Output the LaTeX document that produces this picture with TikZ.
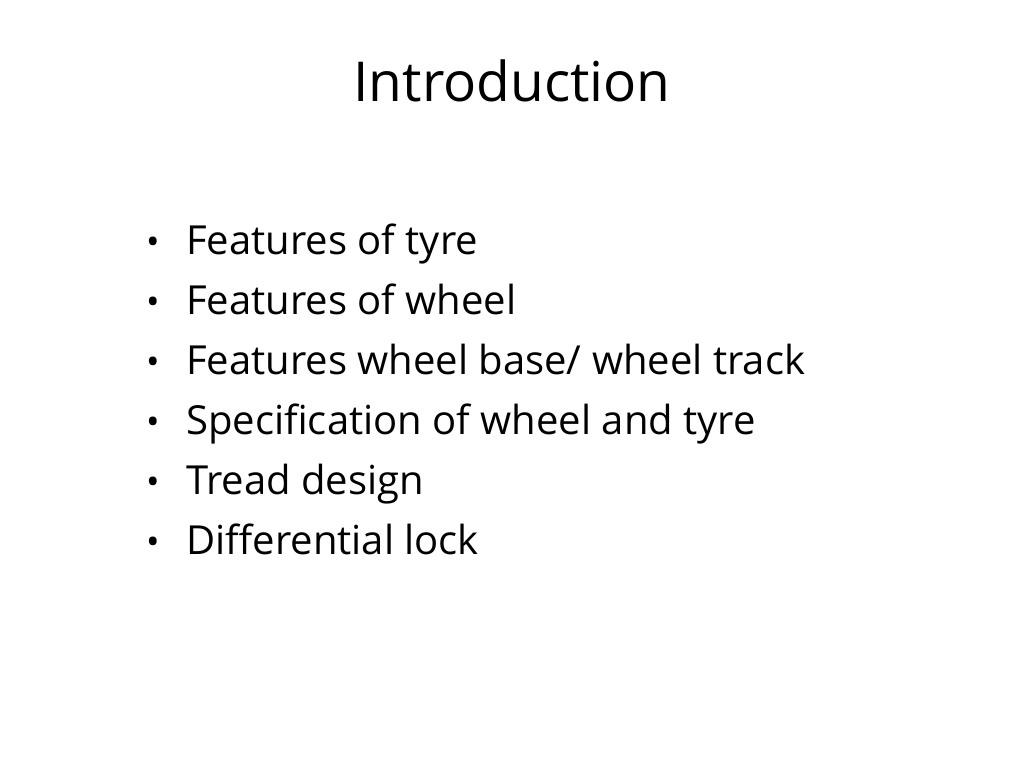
\documentclass[tikz,border=0pt]{standalone}
\usepackage{fontspec}
\setmainfont{Open Sans}
\begin{document}
\begin{tikzpicture}[x=1pt,y=-1pt,
  item/.style={anchor=base west,inner sep=0pt,font=\fontsize{40}{44}\selectfont},
  bul/.style={anchor=base,inner sep=0pt,font=\fontsize{36}{44}\selectfont}]
\useasboundingbox (0,0) rectangle (1024,768);
\node[anchor=base,inner sep=0pt,font=\fontsize{55}{60}\selectfont] (title) at (512,101) {Introduction};
\foreach \t [count=\i] in {Features of tyre,Features of wheel,Features wheel base/ wheel track,Specification of wheel and tyre,Tread design,Differential lock}{
  \node[bul] (b\i) at (153,254+60*\i-60) {•};
  \node[item] (t\i) at (186,254+60*\i-60) {\t};
}
\end{tikzpicture}
\end{document}
